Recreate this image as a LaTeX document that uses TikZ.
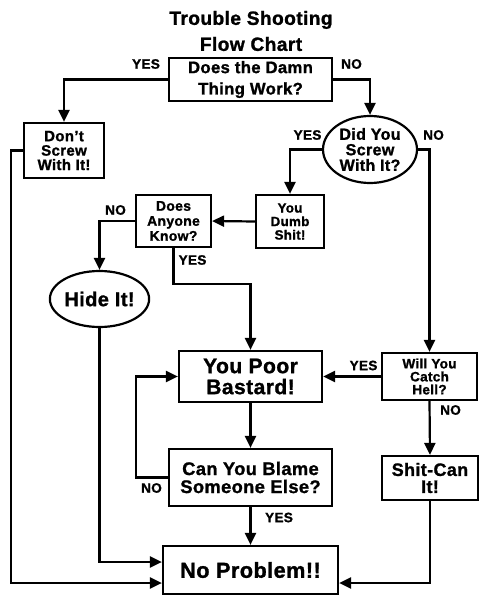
\documentclass[tikz,border=0pt]{standalone}
\usepackage{fontspec}
\setmainfont{Liberation Sans}[LetterSpace=2, BoldFeatures={FakeBold=1.2}]
\usetikzlibrary{arrows.meta, shapes.geometric}

\newcommand{\fsz}[2]{\fontsize{#1}{#2}\selectfont}

\tikzset{
  box/.style={draw, line width=2.2pt, inner sep=0pt, align=center},
  oval/.style={box, ellipse},
  lbl/.style={inner sep=0pt, font={\bfseries\fsz{13.6}{13.6}}},
  flow/.style={line width=2.2pt, -{Triangle[length=12pt,width=11pt]}}
}

\begin{document}
\begin{tikzpicture}[x=1pt, y=-1pt]
    \useasboundingbox (0,0) rectangle (489,604);

    % --- 1. 標題 ---
    \node[align=center, inner sep=0pt, font={\bfseries\fsz{19.2}{26}}] (title) at (251,31)
        {Trouble Shooting\\Flow Chart};

    % --- 2. 方框與橢圓 ---
    \node[box, font={\bfseries\fsz{16.7}{21.3}}, minimum width=163, minimum height=43] (work) at (250.5,79.5)
        {Does the Damn\\Thing Work?};
    \node[box, font={\bfseries\fsz{15.1}{14.4}}, minimum width=80, minimum height=55] (dont) at (64,150.5)
        {Don't\\Screw\\With It!};
    \node[oval, font={\bfseries\fsz{16.1}{15.5}}, minimum width=94, minimum height=67] (did) at (370,149.5)
        {Did You\\Screw\\With It?};
    \node[box, font={\bfseries\fsz{13.4}{13.5}}, minimum width=68, minimum height=53] (dumb) at (290,221.5)
        {You\\Dumb\\Shit!};
    \node[box, font={\bfseries\fsz{14}{15}}, minimum width=75, minimum height=52] (anyone) at (173.5,221)
        {Does\\Anyone\\Know?};
    \node[oval, font={\bfseries\fsz{20}{20}}, minimum width=99, minimum height=56] (hide) at (99.5,299)
        {Hide It!};
    \node[box, font={\bfseries\fsz{21.1}{21}}, minimum width=143, minimum height=51] (poor) at (250.5,376.5)
        {You Poor\\Bastard!};
    \node[box, font={\bfseries\fsz{13.6}{13}}, minimum width=95, minimum height=47] (catch) at (429.5,376.5)
        {Will You\\Catch\\Hell?};
    \node[box, font={\bfseries\fsz{18.3}{18}}, minimum width=163, minimum height=57] (blame) at (250.5,477.5)
        {Can You Blame\\Someone Else?};
    \node[box, font={\bfseries\fsz{18}{17}}, minimum width=96, minimum height=44] (shit) at (430,478)
        {Shit-Can\\It!};
    \node[box, font={\bfseries\fsz{21.7}{21.7}}, minimum width=175, minimum height=48] (nop) at (250.5,570)
        {No Problem!!};

    % --- 3. 連接線 ---
    \draw[flow] (work.west) -| (dont.north);
    \draw[flow] (work.east) -| (did.north);
    \draw[flow] (did.west) -| (dumb.north);
    \draw[flow] (did.east) -| (catch.north);
    \draw[flow] (dumb.west) -- (anyone.east);
    \draw[flow] (anyone.west) -| (hide.north);
    \draw[flow] (anyone.south) -- ++(0,36) -| (poor.north);
    \draw[flow] (catch.west) -- (poor.east);
    \draw[flow] (catch.south) -- (shit.north);
    \draw[flow] (poor.south) -- (blame.north);
    \draw[flow] (blame.west) -- ++(-32,0) |- (poor.west);
    \draw[flow] (blame.south) -- (nop.north);
    \draw[flow] (hide.south) |- ([yshift=8pt]nop.west);
    \draw[flow] (shit.south) |- ([yshift=-13pt]nop.east);
    \draw[flow] (dont.west) -- ++(-12,0) |- ([yshift=-13pt]nop.west);

    % --- 4. 標籤 YES / NO ---
    \node[lbl] (y1) at (146,64) {YES};
    \node[lbl] (n1) at (351.5,64) {NO};
    \node[lbl] (y2) at (307.5,135) {YES};
    \node[lbl] (n2) at (433.5,135) {NO};
    \node[lbl] (n3) at (115.5,210) {NO};
    \node[lbl] (y3) at (192.5,260) {YES};
    \node[lbl] (y4) at (363.5,365.5) {YES};
    \node[lbl] (n4) at (450.5,410) {NO};
    \node[lbl] (n5) at (151.5,488) {NO};
    \node[lbl] (y5) at (279,517.5) {YES};
\end{tikzpicture}
\end{document}
